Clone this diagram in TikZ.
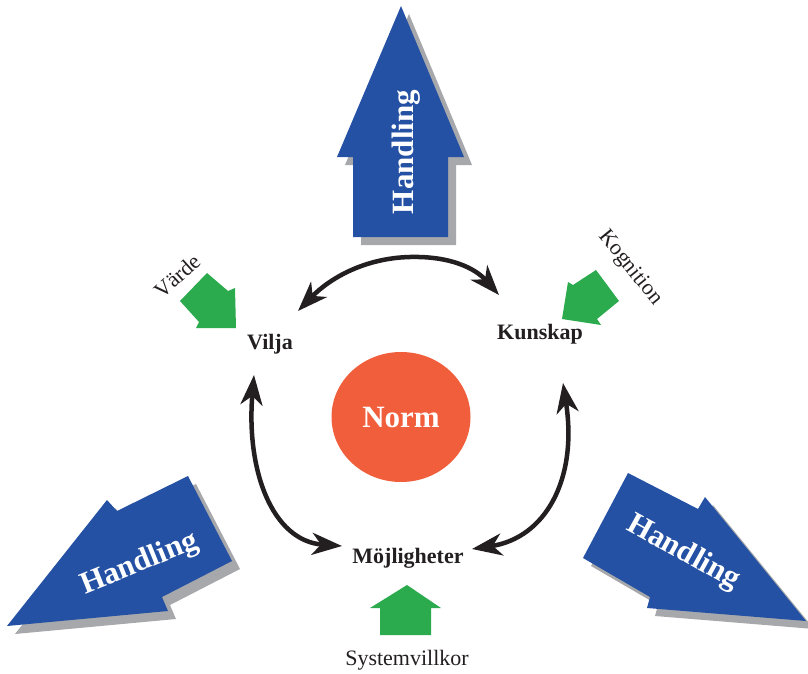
\documentclass[tikz,border=0pt]{standalone}
\usepackage{fontspec}
\setmainfont{Liberation Serif}
\usetikzlibrary{arrows.meta,shapes.geometric}
\definecolor{handblue}{HTML}{2451A3}
\definecolor{shadowgray}{HTML}{A6A8AB}
\definecolor{inputgreen}{HTML}{2BAA4E}
\definecolor{normorange}{HTML}{F15E3C}
\definecolor{inkblack}{HTML}{231F20}
% a filled action arrow with its grey drop shadow
\newcommand\shadowedarrow[1]{%
  \fill[shadowgray,shift={(8,8)}] #1;
  \fill[handblue] #1;}
\begin{document}
\begin{tikzpicture}[x=1pt,y=-1pt,
  lab/.style={font=\fontsize{22}{26}\selectfont\bfseries,text=inkblack,inner sep=0pt},
  smalllab/.style={font=\fontsize{22}{26}\selectfont,text=inkblack,inner sep=0pt},
  handtext/.style={font=\fontsize{31}{36}\selectfont\bfseries,text=white,inner sep=0pt},
  conn/.style={draw=inkblack,line width=4.5pt,
    {Stealth[length=30pt,width=22pt,inset=9pt]}-{Stealth[length=30pt,width=22pt,inset=9pt]}},
  greenarrow/.style={fill=inputgreen}]
\useasboundingbox (0,0) rectangle (808,674);

% the three "Handling" arrows
\shadowedarrow{(401,6) -- (464,157) -- (448,157) -- (448,237) -- (353,237) -- (353,157) -- (337,157) -- cycle}
\shadowedarrow{(7,626) -- (107,500) -- (117,511) -- (188,476) -- (232,561) -- (162,597) -- (168,611) -- cycle}
\shadowedarrow{(628,473) -- (698,509) -- (705,497) -- (806,621) -- (647,608) -- (650,597) -- (583,558) -- cycle}
\node[handtext,rotate=90] (hup) at (406,152) {Handling};
\node[handtext,rotate=22] (hleft) at (140,564) {Handling};
\node[handtext,rotate=-29] (hright) at (683,553) {Handling};

% green input arrows
\fill[greenarrow] (180,301) -- (207,273) -- (228,291) -- (235,288) -- (236,328) -- (196,328) -- (199,322) -- cycle;
\fill[greenarrow] (562,319) -- (568,282) -- (573,285) -- (596,270) -- (619,301) -- (597,319) -- (601,325) -- cycle;
\fill[greenarrow] (407,585) -- (441,608) -- (431,608) -- (431,635) -- (380,635) -- (380,608) -- (370,608) -- cycle;

% labels
\node[lab] (vilja) at (270,344) {Vilja};
\node[lab] (kunskap) at (540,334) {Kunskap};
\node[lab] (moj) at (408,558) {Möjligheter};
\node[smalllab] (system) at (407,660) {Systemvillkor};
\node[smalllab,rotate=42] (varde) at (177,276) {Värde};
\node[smalllab,rotate=-51] (kogn) at (630,268) {Kognition};

% central norm
\node[ellipse,fill=normorange,minimum width=139pt,minimum height=130pt,inner sep=0pt,
  font=\fontsize{31}{36}\selectfont\bfseries,text=white] (norm) at (401,417) {Norm};

% interaction arcs
\coordinate (vk) at (298,311);
\coordinate (peak) at (410,257);
\coordinate (kv) at (499,295);
\coordinate (vm) at (254,375);
\coordinate (mv) at (342,546);
\coordinate (km) at (563,383);
\coordinate (mk) at (472,549);
\draw[conn] (vk) .. controls (330,278) and (365,258) .. (peak)
  .. controls (450,256) and (475,268) .. (kv);
\draw[conn] (vm) .. controls (246,470) and (272,541) .. (mv);
\draw[conn] (km) .. controls (578,480) and (545,538) .. (mk);
\end{tikzpicture}
\end{document}
